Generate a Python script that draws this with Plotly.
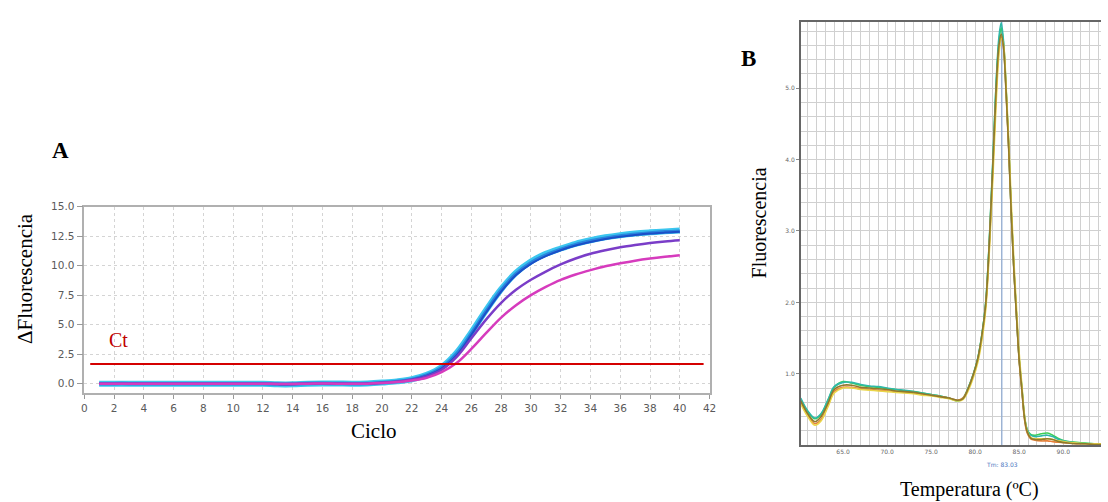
import plotly.graph_objects as go

# ---------------- Panel A: amplification data ----------------
cycles = list(range(1, 41))

blue_dark = [0.00, 0.00, 0.01, 0.01, 0.00, 0.00, 0.00, 0.00, 0.00, 0.00,
             0.00, 0.00, -0.03, -0.04, 0.02, 0.05, 0.03, 0.00, 0.02, 0.08,
             0.18, 0.35, 0.68, 1.28, 2.40, 4.15, 6.05, 7.80, 9.20, 10.15,
             10.80, 11.30, 11.70, 12.00, 12.25, 12.45, 12.60, 12.72, 12.80, 12.86]
blue_mid = [0.00, 0.01, 0.01, 0.00, 0.00, 0.00, 0.00, 0.00, 0.00, 0.00,
            0.00, -0.01, -0.03, -0.03, 0.03, 0.04, 0.02, 0.00, 0.02, 0.09,
            0.19, 0.37, 0.72, 1.35, 2.52, 4.25, 6.15, 7.92, 9.30, 10.25,
            10.90, 11.38, 11.78, 12.08, 12.33, 12.52, 12.66, 12.77, 12.86, 12.92]
blue_cyan = [0.00, 0.00, 0.00, 0.00, 0.00, 0.00, 0.00, 0.00, 0.00, 0.00,
             0.00, 0.00, -0.05, -0.05, 0.01, 0.03, 0.02, 0.00, 0.03, 0.10,
             0.20, 0.38, 0.75, 1.40, 2.60, 4.35, 6.25, 8.00, 9.40, 10.35,
             11.00, 11.45, 11.85, 12.15, 12.40, 12.58, 12.72, 12.82, 12.90, 12.98]
purple = [0.00, 0.00, 0.00, 0.00, 0.00, 0.00, 0.00, 0.00, 0.00, 0.00,
          0.00, 0.00, -0.02, -0.02, 0.01, 0.02, 0.01, 0.00, 0.01, 0.08,
          0.18, 0.33, 0.62, 1.18, 2.25, 3.85, 5.45, 6.85, 7.95, 8.80,
          9.50, 10.10, 10.60, 11.00, 11.30, 11.55, 11.75, 11.92, 12.05, 12.15]
magenta = [0.00, 0.00, 0.00, 0.00, 0.00, 0.00, 0.00, 0.00, 0.00, 0.00,
           0.00, 0.00, -0.02, -0.02, 0.01, 0.02, 0.01, 0.00, 0.01, 0.06,
           0.14, 0.27, 0.50, 0.98, 1.75, 2.95, 4.30, 5.60, 6.65, 7.50,
           8.20, 8.80, 9.25, 9.62, 9.95, 10.20, 10.42, 10.60, 10.75, 10.88]

ct_threshold = 1.68
ct_span = [0.4, 41.6]

# ---------------- Panel B: melt-curve data ----------------
temps = [60.2, 61.0, 61.8, 62.5, 63.3, 64.0, 65.0, 66.0, 67.0, 68.0,
         69.0, 70.0, 71.0, 72.0, 73.0, 74.0, 75.0, 76.0, 77.0, 78.0,
         78.6, 79.2, 79.8, 80.3, 80.8, 81.2, 81.6, 82.0, 82.4, 82.7,
         82.95, 83.2, 83.5, 83.8, 84.1, 84.4, 84.7, 85.0, 85.3, 85.6,
         85.9, 86.3, 86.8, 87.5, 88.2, 88.8, 89.5, 90.5, 91.5, 92.5,
         93.5, 94.3]

melt_orange = [0.60, 0.42, 0.30, 0.36, 0.56, 0.75, 0.81, 0.81, 0.79, 0.78,
               0.77, 0.76, 0.75, 0.74, 0.73, 0.71, 0.70, 0.68, 0.66, 0.63,
               0.66, 0.79, 0.99, 1.20, 1.55, 1.96, 2.78, 3.85, 4.98, 5.55,
               5.72, 5.58, 4.95, 4.15, 3.22, 2.42, 1.78, 1.17, 0.76, 0.36,
               0.17, 0.09, 0.07, 0.06, 0.06, 0.05, 0.04, 0.03, 0.02, 0.02,
               0.01, 0.01]
melt_yellow = [0.58, 0.40, 0.28, 0.34, 0.54, 0.73, 0.80, 0.80, 0.78, 0.77,
               0.76, 0.75, 0.74, 0.73, 0.72, 0.70, 0.69, 0.67, 0.65, 0.62,
               0.64, 0.76, 0.95, 1.16, 1.50, 1.90, 2.70, 3.72, 4.85, 5.48,
               5.70, 5.62, 5.05, 4.30, 3.38, 2.56, 1.90, 1.28, 0.84, 0.42,
               0.20, 0.11, 0.09, 0.09, 0.09, 0.08, 0.06, 0.04, 0.03, 0.02,
               0.02, 0.02]
melt_olive = [0.62, 0.44, 0.33, 0.40, 0.59, 0.78, 0.84, 0.84, 0.81, 0.80,
              0.79, 0.78, 0.76, 0.75, 0.74, 0.72, 0.70, 0.68, 0.66, 0.63,
              0.65, 0.79, 0.99, 1.21, 1.57, 1.98, 2.82, 3.90, 5.04, 5.60,
              5.76, 5.60, 4.98, 4.18, 3.24, 2.44, 1.79, 1.19, 0.78, 0.38,
              0.19, 0.10, 0.08, 0.08, 0.09, 0.08, 0.05, 0.03, 0.02, 0.02,
              0.01, 0.01]
melt_teal = [0.66, 0.48, 0.38, 0.44, 0.64, 0.82, 0.88, 0.88, 0.85, 0.83,
             0.82, 0.80, 0.78, 0.77, 0.75, 0.73, 0.71, 0.69, 0.66, 0.62,
             0.65, 0.80, 1.00, 1.22, 1.58, 2.00, 2.86, 3.98, 5.14, 5.72,
             5.92, 5.68, 5.02, 4.20, 3.25, 2.45, 1.80, 1.20, 0.80, 0.40,
             0.22, 0.14, 0.12, 0.13, 0.14, 0.12, 0.08, 0.05, 0.03, 0.02,
             0.02, 0.02]
melt_green = [0.64, 0.47, 0.37, 0.43, 0.63, 0.81, 0.89, 0.87, 0.84, 0.82,
              0.81, 0.79, 0.78, 0.76, 0.75, 0.73, 0.71, 0.69, 0.66, 0.62,
              0.66, 0.80, 1.00, 1.22, 1.58, 2.00, 2.85, 3.95, 5.10, 5.65,
              5.85, 5.65, 5.00, 4.20, 3.25, 2.45, 1.80, 1.20, 0.80, 0.40,
              0.22, 0.15, 0.14, 0.16, 0.17, 0.14, 0.09, 0.05, 0.04, 0.03,
              0.02, 0.02]

tm_value = 83.03

a_xticks = list(range(0, 43, 2))
a_yticks = [0.0, 2.5, 5.0, 7.5, 10.0, 12.5, 15.0]
b_xticks = [65.0, 70.0, 75.0, 80.0, 85.0, 90.0]
b_yticks = [1.0, 2.0, 3.0, 4.0, 5.0]

W, H = 1108, 502
SERIF = "Liberation Serif, Times New Roman, serif"
SANS = "DejaVu Sans, Verdana, sans-serif"

fig = go.Figure()

# Panel A traces
for ys, col, w in [(blue_cyan, "#3cc6ef", 6), (blue_mid, "#2a86dd", 3.5),
                   (blue_dark, "#1c4fc8", 2), (purple, "#7a3dc8", 2.5),
                   (magenta, "#d63bbd", 2.5)]:
    fig.add_trace(go.Scatter(x=cycles, y=ys, mode="lines",
                             line=dict(color=col, width=w, shape="spline"),
                             xaxis="x", yaxis="y", showlegend=False, hoverinfo="skip"))

fig.add_trace(go.Scatter(x=ct_span, y=[ct_threshold, ct_threshold], mode="lines",
                         line=dict(color="#d40000", width=2),
                         xaxis="x", yaxis="y", showlegend=False, hoverinfo="skip"))

# Panel B traces
fig.add_trace(go.Scatter(x=[tm_value, tm_value], y=[0, 5.93], mode="lines",
                         line=dict(color="#7fa3d4", width=1),
                         xaxis="x2", yaxis="y2", showlegend=False, hoverinfo="skip"))
for ys, col in [(melt_green, "#3ccf55"), (melt_teal, "#2fb8a8"),
                (melt_orange, "#e8803a"), (melt_yellow, "#e9d64a"),
                (melt_olive, "#8f7a2c")]:
    fig.add_trace(go.Scatter(x=temps, y=ys, mode="lines",
                             line=dict(color=col, width=1.6, shape="spline"),
                             xaxis="x2", yaxis="y2", showlegend=False, hoverinfo="skip"))

def px_x(p):
    return p / W

def px_y(p):
    return (H - p) / H

def note(text, x, y, size, color="black", family=SERIF, angle=0, xref="paper"):
    return dict(text=text, x=x, y=y, xref=xref, yref="paper",
                xanchor="center", yanchor="middle", textangle=angle,
                showarrow=False, font=dict(family=family, size=size, color=color))

fig.update_layout(
    width=W, height=H, autosize=False,
    margin=dict(l=0, r=0, t=0, b=0),
    paper_bgcolor="white", plot_bgcolor="white",
    xaxis=dict(domain=[px_x(82), px_x(713)], range=[0, 42],
               tickmode="array", tickvals=a_xticks,
               showgrid=True, gridcolor="#d4d4d4", griddash="dot", gridwidth=1,
               showline=True, linecolor="#b0b0b0", linewidth=1.5, mirror=True,
               ticks="outside", ticklen=4, tickcolor="#999",
               tickfont=dict(family=SANS, size=10.5, color="#5a5a5a"),
               zeroline=False),
    yaxis=dict(domain=[px_y(392), px_y(203)], range=[-0.81, 15.0],
               tickmode="array", tickvals=a_yticks, tickformat=".1f",
               showgrid=True, gridcolor="#d4d4d4", griddash="dot", gridwidth=1,
               showline=True, linecolor="#b0b0b0", linewidth=1.5, mirror=True,
               ticks="outside", ticklen=6, tickcolor="#999",
               tickfont=dict(family=SANS, size=10.5, color="#5a5a5a"),
               zeroline=False),
    xaxis2=dict(domain=[px_x(805), 1.0], range=[60.2, 94.28], anchor="y2",
                tickmode="array", tickvals=b_xticks, tickformat=".1f",
                showgrid=True, gridcolor="#d0d0d0", gridwidth=1,
                minor=dict(dtick=1, tick0=60, showgrid=True, gridcolor="#d0d0d0", gridwidth=1),
                showline=True, linecolor="#666", linewidth=1.5, mirror=True,
                ticks="", tickfont=dict(family=SANS, size=6, color="#666"),
                zeroline=False),
    yaxis2=dict(domain=[px_y(444.5), px_y(16)], range=[0, 5.93], anchor="x2",
                tickmode="array", tickvals=b_yticks, tickformat=".1f",
                showgrid=True, gridcolor="#d0d0d0", gridwidth=1,
                minor=dict(dtick=0.2, tick0=0, showgrid=True, gridcolor="#d0d0d0", gridwidth=1),
                showline=True, linecolor="#666", linewidth=1.5,
                ticks="outside", ticklen=3, tickcolor="#888",
                tickfont=dict(family=SANS, size=6, color="#666"),
                zeroline=False),
    annotations=[
        note("<b>A</b>", px_x(58), px_y(146), 23),
        note("<b>B</b>", px_x(752), px_y(53), 23),
        note("ΔFluorescencia", px_x(21.5), px_y(276), 21, angle=-90),
        note("Ciclo", px_x(374), px_y(430), 21),
        note("Ct", px_x(117), px_y(338), 20, color="#c00000"),
        note("Fluorescencia", px_x(763), px_y(220), 20, angle=-90),
        note("Temperatura (ºC)", px_x(975), px_y(489), 20),
        note("Tm: 83.03", tm_value, px_y(464), 6, color="#4a76c0", family=SANS, xref="x2"),
    ],
)

fig.write_html("out.html", config={"displayModeBar": False},
               post_script="document.body.style.margin='0';")
